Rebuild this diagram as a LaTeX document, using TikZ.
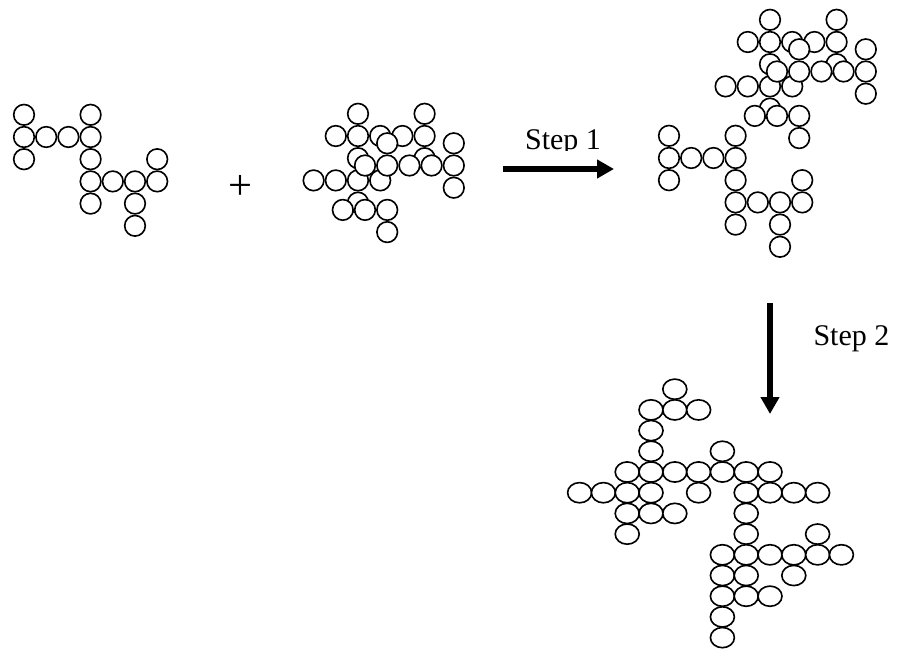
\documentclass[tikz,border=0pt]{standalone}
\usepackage{fontspec}
\setmainfont{Liberation Serif}
\usetikzlibrary{arrows.meta}

\tikzset{
  atom/.style={draw, line width=0.65pt, fill=white},
  flatatom/.style={draw, line width=0.65pt, fill=white},
  steparrow/.style={line width=2.2pt, -{Triangle[length=6.8pt,width=7.2pt]}},
  steplabel/.style={inner sep=0pt, font=\fontsize{12}{14}\selectfont}
}

% grid cells of the pieces (column/row)
\newcommand{\molA}{0/-1,0/0,0/1,1/0,2/0,3/-1,3/0,3/1,3/2,3/3,4/2,5/2,6/1,6/2,5/3,5/4}
\newcommand{\molBback}{0/3,0/1,3/1,0/-1,3/-1,-1/0,0/0,1/0,2/0,3/0,-2/2,-1/2,0/2,1/2}
\newcommand{\molBfront}{1/-1,4/-1,0/0,1/0,2/0,3/0,4/0,4/1,-1/2,0/2,1/2,1/3}
\newcommand{\molC}{1/-4,0/-3,1/-3,2/-3,0/-2,0/-1,3/-1,-1/0,0/0,1/0,2/0,3/0,4/0,5/0,
  -3/1,-2/1,-1/1,0/1,2/1,4/1,5/1,6/1,7/1,-1/2,0/2,1/2,4/2,-1/3,4/3,7/3,
  3/4,4/4,5/4,6/4,7/4,8/4,3/5,4/5,6/5,3/6,4/6,5/6,3/7,3/8}

\begin{document}
\begin{tikzpicture}[x=0.4pt,y=-0.4pt]
\useasboundingbox (0,0) rectangle (899,652);

% first piece
\foreach \c/\r in \molA
  \draw[atom] ({24+22.2*\c},{137+22.2*\r}) circle[radius=10.3];

\node[inner sep=0pt, font=\fontsize{17}{20}\selectfont] (plus) at (240,187) {+};

% second piece, two layers
\foreach \c/\r in \molBback
  \draw[atom] ({358+22.2*\c},{136+22.2*\r}) circle[radius=10.3];
\foreach \c/\r in \molBfront
  \draw[atom] ({365+22.2*\c},{165.5+22.2*\r}) circle[radius=10.3];

% step 1
\coordinate (s1from) at (503,169);
\coordinate (s1to) at (614,169);
\draw[steparrow] (s1from) -- (s1to);
\begin{scope}
  \clip (480,100) rectangle (660,151);
  \node[steplabel, anchor=base] (step1) at (563,150) {Step 1};
\end{scope}

% after step 1
\foreach \c/\r in \molBback
  \draw[atom] ({770+22.2*\c},{42+22.2*\r}) circle[radius=10.3];
\foreach \c/\r in \molBfront
  \draw[atom] ({777+22.2*\c},{71.5+22.2*\r}) circle[radius=10.3];
\foreach \c/\r in \molA
  \draw[atom] ({669+22.2*\c},{158+22.2*\r}) circle[radius=10.3];

% step 2
\coordinate (s2from) at (770,303);
\coordinate (s2to) at (770,414);
\draw[steparrow] (s2from) -- (s2to);
\node[steplabel, anchor=base west] (step2) at (813,345) {Step 2};

% after step 2
\foreach \c/\r in \molC
  \draw[flatatom] ({651+23.8*\c},{472+20.7*\r}) ellipse[x radius=12, y radius=10.1];
\end{tikzpicture}
\end{document}
